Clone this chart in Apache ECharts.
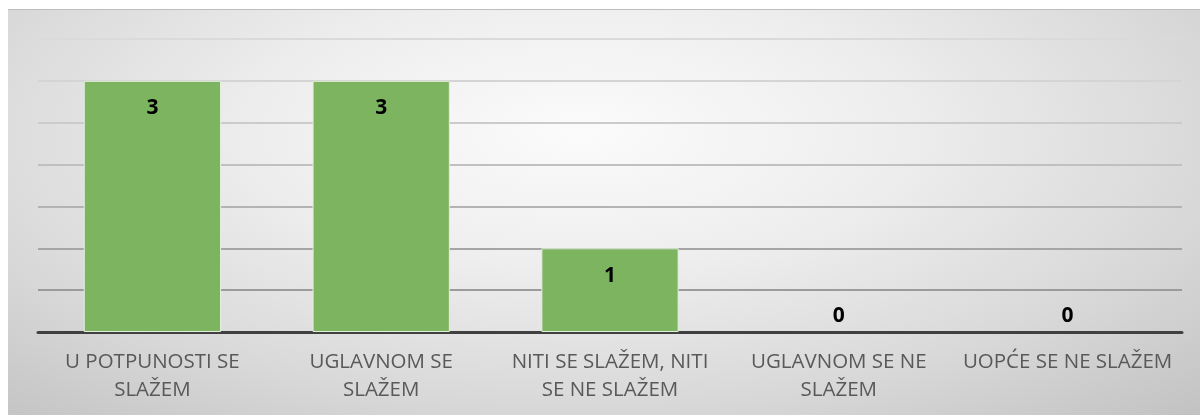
<!DOCTYPE html>
<html>
<head>
<meta charset="utf-8">
<script src="https://cdn.jsdelivr.net/npm/echarts@6/dist/echarts.min.js"></script>
<style>
  html, body { margin: 0; padding: 0; background: #ffffff; }
  #wrap { position: relative; width: 1200px; height: 415px; background: #ffffff; }
  #bg { position: absolute; left: 8px; top: 9px; width: 1192px; height: 406px;
        background: radial-gradient(ellipse 75% 95% at 48% 30%, #fbfbfb 0%, #eeeeee 35%, #d9d9d9 70%, #c3c3c3 100%);
        border-top: 1px solid #bdbdbd; box-sizing: border-box; }
  #chart { position: absolute; left: 0; top: 0; width: 1200px; height: 415px; }
</style>
</head>
<body>
<div id="wrap"><div id="bg"></div><div id="chart"></div></div>
<script>
const categories = [
  'U POTPUNOSTI SE\nSLAŽEM',
  'UGLAVNOM SE\nSLAŽEM',
  'NITI SE SLAŽEM, NITI\nSE NE SLAŽEM',
  'UGLAVNOM SE NE\nSLAŽEM',
  'UOPĆE SE NE SLAŽEM'
];
const values = [3, 3, 1, 0, 0];
const yMin = 0, yMax = 3.5, yStep = 0.5;

const chart = echarts.init(document.getElementById('chart'), null, { renderer: 'canvas' });
const gridColors = ['#999999', '#9b9b9b', '#a5a5a5', '#b3b3b3', '#c0c0c0', '#cbcbcb', '#d4d4d4', '#dadada'];

chart.setOption({
  backgroundColor: 'transparent',
  animation: false,
  grid: { left: 38, right: 18, top: 39, bottom: 83, containLabel: false },
  xAxis: {
    type: 'category',
    data: categories,
    axisLine: { show: true, lineStyle: { color: '#404040', width: 3 } },
    axisTick: { show: false },
    axisLabel: {
      interval: 0, margin: 16, color: '#595959',
      fontFamily: 'Open Sans', fontSize: 20.5, lineHeight: 28
    }
  },
  yAxis: {
    type: 'value', min: yMin, max: yMax, interval: yStep,
    axisLine: { show: false }, axisTick: { show: false },
    axisLabel: { show: false },
    splitLine: { show: true, lineStyle: { color: gridColors, width: 2 } }
  },
  series: [{
    type: 'bar',
    barWidth: '60%',
    data: values.map(v => ({
      value: v,
      itemStyle: v === 0 ? { borderWidth: 0 } : {},
      label: v === 0 ? { position: 'top', distance: 5 } : { position: 'insideTop', distance: 17 }
    })),
    itemStyle: { color: '#7db45f', borderColor: '#e4eedc', borderWidth: 1 },
    label: {
      show: true, color: '#000000', fontFamily: 'Open Sans',
      fontWeight: 'bold', fontSize: 21
    }
  }]
});
</script>
</body>
</html>
